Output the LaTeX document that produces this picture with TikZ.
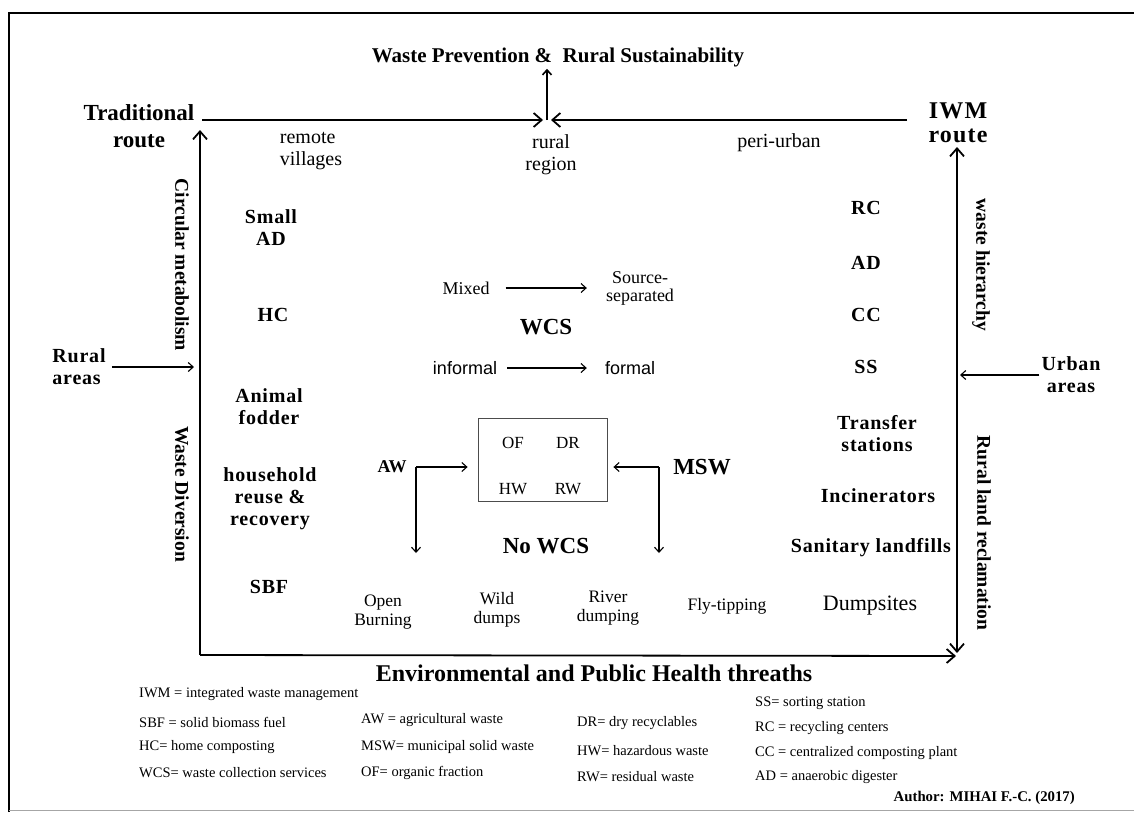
\documentclass[tikz,border=0pt]{standalone}
\usepackage{fontspec}
\setmainfont{Liberation Serif}
\newfontfamily\arialfont{Liberation Sans}
\newfontfamily\spacedfont[LetterSpace=4]{Liberation Serif}
\newfontfamily\iwmfont[LetterSpace=5]{Liberation Serif}
\usetikzlibrary{arrows.meta,positioning}

\tikzset{
  every node/.style={inner sep=2pt},
  bigbold/.style={font=\bfseries\fontsize{23}{27}\selectfont, align=center},
  item/.style={font=\spacedfont\bfseries\fontsize{20}{22}\selectfont, align=center},
  side/.style={font=\bfseries\fontsize{19.5}{22}\selectfont, rotate=-90},
  plain/.style={font=\fontsize{20}{22}\selectfont, align=center},
  small/.style={font=\fontsize{17.5}{19.5}\selectfont, align=center},
  boxtxt/.style={font=\fontsize{17}{19}\selectfont},
  legend/.style={font=\fontsize{14.5}{16}\selectfont, anchor=west, inner sep=0pt},
  axisarrow/.style={line width=1.8pt, -{Straight Barb[length=8pt,width=14pt]}},
  thinarrow/.style={line width=1.1pt, -{Straight Barb[length=5pt,width=9pt]}},
}

\begin{document}
\begin{tikzpicture}[x=1pt, y=-1pt]
\useasboundingbox (0,0) rectangle (1134,812);

% outer frame
\draw[line width=2.5pt] (9,812) -- (9,13) -- (1134,13);
\draw[black!35, line width=1pt] (9,810) -- (1134,810);

% top
\node[font=\bfseries\fontsize{21}{24}\selectfont] (title) at (558,57) {Waste Prevention \&~ Rural Sustainability};
\node[bigbold] (trad) at (139,126) {Traditional\\route};
\node[font=\iwmfont\bfseries\fontsize{24}{24}\selectfont, align=center] (iwm) at (958,123) {IWM\\route};
\node[plain, align=left] (remote) at (311,151) {remote\\villages};
\node[plain] (region) at (551,155) {rural\\region};
\node[plain] (periurban) at (779,143) {peri-urban};

% axes
\coordinate (hl) at (202,120);
\coordinate (hr) at (907,120);
\coordinate (hm) at (547,120);
\coordinate (tl) at (200,130);
\coordinate (bl) at (200,655);
\coordinate (br) at (956,656);
\coordinate (bd) at (957,653);
\coordinate (tr) at (957,147);

\draw[axisarrow, shorten >=4pt] (hl) -- (hm);
\draw[axisarrow, shorten >=4pt] (hr) -- (hm);
\draw[thinarrow, line width=1.6pt] (hm) -- (hm |- title.south);
\draw[axisarrow] (bl) -- (tl);
\draw[axisarrow] (bl) -- (br);
\draw[axisarrow, {Straight Barb[length=8pt,width=14pt]}-{Straight Barb[length=8pt,width=14pt]}] (bd) -- (tr);

% side labels
\node[side] (circ) at (182,265) {Circular metabolism};
\node[side] (divers) at (182,494) {Waste Diversion};
\node[side] (hier) at (981,265) {waste hierarchy};
\node[side] (reclaim) at (984,533) {Rural land reclamation};

\node[item, align=left] (ruralareas) at (79,367) {Rural\\areas};
\coordinate (rin) at (194,367);
\draw[thinarrow, shorten <=4pt] (ruralareas) -- (rin);
\node[item] (urbanareas) at (1071,375) {Urban\\areas};
\coordinate (uin) at (960,375);
\draw[thinarrow] (urbanareas) -- (uin);

% traditional options
\node[item] (smallad) at (271,228) {Small\\AD};
\node[item] (hc) at (273,315) {HC};
\node[item] (fodder) at (269,407) {Animal\\fodder};
\node[item] (reuse) at (270,499) {household\\reuse \&\\recovery};
\node[item] (sbf) at (269,587) {SBF};

% IWM options
\node[item] (rc) at (866,208) {RC};
\node[item] (ad) at (866,263) {AD};
\node[item] (cc) at (866,315) {CC};
\node[item] (ss) at (866,367) {SS};
\node[item] (transfer) at (877,434) {Transfer\\stations};
\node[item] (incin) at (878,496) {Incinerators};
\node[item] (sanitary) at (871,548) {Sanitary landfills};

% collection services
\node[font=\fontsize{18}{18}\selectfont] (mixed) at (466,288) {Mixed};
\node[font=\fontsize{18}{18}\selectfont, align=center] (srcsep) at (640,288) {Source-\\separated};
\draw[thinarrow, shorten <=14pt, shorten >=17pt] (mixed) -- (mixed -| srcsep.west);
\node[bigbold] (wcs) at (546,327) {WCS};
\node[font=\arialfont\fontsize{18}{18}\selectfont] (informal) at (465,368) {informal};
\node[font=\arialfont\fontsize{18}{18}\selectfont] (formal) at (630,368) {formal};
\draw[thinarrow, shorten <=8pt, shorten >=16pt] (informal) -- (formal);

% waste fractions
\node[draw=black!70, line width=0.8pt, minimum width=129pt, minimum height=83pt] (box) at (542.5,459.5) {};
\node[boxtxt] (organic) at (513,443) {OF};
\node[boxtxt, right of=organic, node distance=55pt] (dry) {DR};
\node[boxtxt, below of=organic, node distance=46pt] (hazard) {HW};
\node[boxtxt, right of=hazard, node distance=55pt] (residual) {RW};

\node[font=\bfseries\fontsize{18}{20}\selectfont] (aw) at (392,467) {AW};
\node[bigbold] (msw) at (702,467) {MSW};
\coordinate (awc) at (416,467);
\coordinate (awd) at (416,553);
\coordinate (mswc) at (659,467);
\coordinate (mswd) at (659,553);
\draw[thinarrow, shorten >=10pt] (awc) -- (awc -| box.west);
\draw[thinarrow] (awc) -- (awd);
\draw[thinarrow, shorten >=6pt] (mswc) -- (mswc -| box.east);
\draw[thinarrow] (mswc) -- (mswd);
\node[bigbold] (nowcs) at (546,546) {No WCS};

% disposal
\node[small] (burning) at (383,612) {Open\\Burning};
\node[small] (wild) at (497,610) {Wild\\dumps};
\node[small] (river) at (608,608) {River\\dumping};
\node[small] (fly) at (727,606) {Fly-tipping};
\node[font=\fontsize{22}{24}\selectfont] (dumpsites) at (870,606) {Dumpsites};

\node[font=\bfseries\fontsize{24}{26}\selectfont] (env) at (594,673) {Environmental and Public Health threaths};

% legend
\node[legend] (l1) at (139,694) {IWM = integrated waste management};
\node[legend] (l2) at (139,722) {SBF = solid biomass fuel};
\node[legend] (l3) at (139,747) {HC= home composting};
\node[legend] (l4) at (139,773) {WCS= waste collection services};
\node[legend] (l5) at (361,720) {AW = agricultural waste};
\node[legend] (l6) at (361,747) {MSW= municipal solid waste};
\node[legend] (l7) at (361,773) {OF= organic fraction};
\node[legend] (l8) at (577,723) {DR= dry recyclables};
\node[legend] (l9) at (577,751) {HW= hazardous waste};
\node[legend] (l10) at (577,777) {RW= residual waste};
\node[legend] (l11) at (755,703) {SS= sorting station};
\node[legend] (l12) at (755,728) {RC = recycling centers};
\node[legend] (l13) at (755,753) {CC = centralized composting plant};
\node[legend] (l14) at (755,777) {AD = anaerobic digester};
\node[font=\bfseries\fontsize{14.8}{16}\selectfont, anchor=east] (author) at (1077,798) {Author: MIHAI F.-C. (2017)};
\end{tikzpicture}
\end{document}
